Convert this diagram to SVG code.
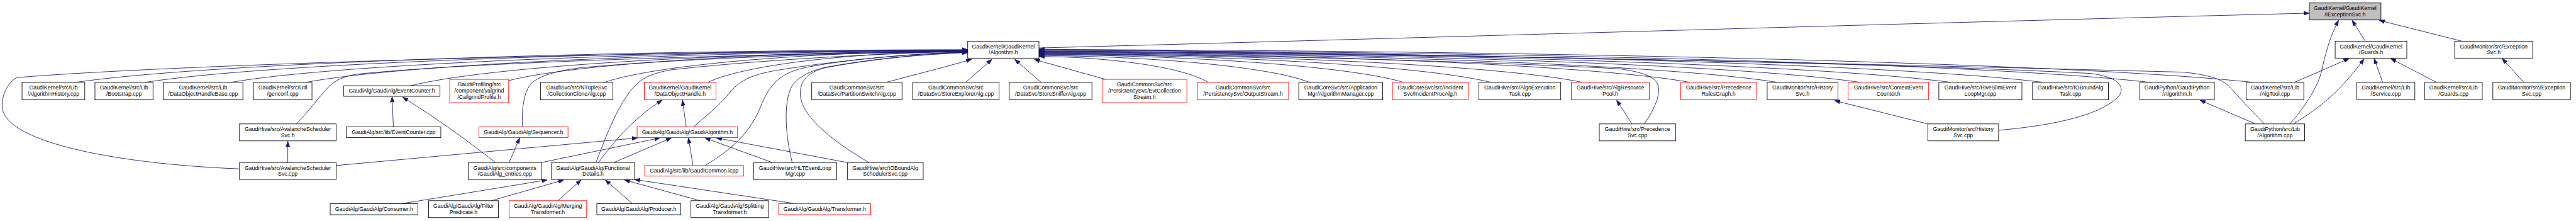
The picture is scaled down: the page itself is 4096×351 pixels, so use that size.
<svg xmlns="http://www.w3.org/2000/svg" width="4096" height="351" viewBox="0 0 4096 351">
<defs>
<style>
.n rect{fill:#fff;stroke:#000;stroke-width:1.3}
.r rect{stroke:#f00}
.g rect{fill:#bfbfbf}
text{font-family:"Liberation Sans",Arial,sans-serif;font-size:13px;fill:#000;text-anchor:middle}
#edges path{fill:none;stroke:#191970;stroke-width:1.3;marker-end:url(#ah)}
</style>
<marker id="ah" viewBox="0 0 13 10" markerWidth="13" markerHeight="10" refX="13" refY="5" orient="auto" markerUnits="userSpaceOnUse">
<path d="M0,0.3 L13,5 L0,9.7 z" fill="#191970" stroke="#191970" stroke-width="1"/>
</marker>
</defs>
<rect x="0" y="0" width="4096" height="351" fill="#fff"/>
<g transform="scale(0.674)">
<g id="edges">
<path d="M179,194 C494,148 1441,118 2283,117"/>
<path d="M343,194 C634,148 1507,119 2283,118"/>
<path d="M545,194 C806,149 1588,120 2283,119"/>
<path d="M722,194 C956,150 1659,121 2283,120"/>
<path d="M969,202 C1166,153 1757,122 2283,121"/>
<path d="M699,292 C735,255 755,225 775,205 C790,190 810,180 840,175 C1100,148 1700,128 2283,122"/>
<path d="M1200,190 C1362,148 1850,121 2283,120"/>
<path d="M1233,299 C1230,260 1235,215 1255,195 C1275,178 1310,168 1366,160 C1600,138 2000,124 2283,121"/>
<path d="M1426,194 C1555,150 1940,121 2283,120"/>
<path d="M1406,383 C1430,320 1460,240 1500,200 C1520,180 1545,172 1580,165 C1800,140 2100,125 2283,121"/>
<path d="M1670,194 C1762,150 2038,122 2283,121"/>
<path d="M1636,299 C1670,270 1700,245 1720,220 C1745,190 1770,178 1820,168 C1950,145 2150,126 2283,122"/>
<path d="M1663,390 C1740,345 1775,300 1795,250 C1815,200 1840,170 1906,158 C2000,140 2150,126 2283,123"/>
<path d="M1869,383 C1855,330 1845,240 1870,200 C1890,175 1920,165 1950,158 C2050,140 2170,127 2283,123"/>
<path d="M2050,383 C1960,330 1885,270 1888,217 C1890,185 1910,170 1945,160 C2050,140 2170,128 2283,124"/>
<path d="M565,398 C250,385 5,330 5,250 C5,218 20,195 39,183 C300,160 1200,125 2283,118"/>
<path d="M2091,194 C2150,178 2230,158 2292,140"/>
<path d="M2278,194 L2340,140"/>
<path d="M2456,194 L2394,140"/>
<path d="M2608,187 L2440,140"/>
<path d="M2850,194 C2790,157 2611,134 2451,133"/>
<path d="M3089,194 C2993,156 2706,132 2451,131"/>
<path d="M3311,194 C3182,155 2795,130 2451,129"/>
<path d="M3517,194 C3357,154 2877,129 2451,128"/>
<path d="M3733,194 C3541,154 2964,128 2451,127"/>
<path d="M3879,292 C3905,255 3925,210 3905,190 C3890,175 3860,168 3820,162 C3400,140 2800,128 2451,126"/>
<path d="M3987,194 C3757,153 3065,126 2451,125"/>
<path d="M4193,194 C3932,152 3148,125 2451,124"/>
<path d="M4388,194 C4098,151 3226,124 2451,123"/>
<path d="M4602,194 C4279,151 3311,123 2451,122"/>
<path d="M4820,194 C4465,150 3399,122 2451,121"/>
<path d="M4715,307 C4850,295 4960,270 5000,225 C5015,200 4990,180 4931,173 C4300,140 2800,122 2451,120"/>
<path d="M5071,194 C4678,149 3499,120 2451,119"/>
<path d="M5314,194 C4885,148 3596,118 2451,117"/>
<path d="M5342,292 C5300,250 5275,220 5255,200 C5235,183 5200,175 5150,170 C4000,140 2800,118 2451,116"/>
<path d="M2451,113 C3400,88 4500,55 5448,31"/>
<path d="M928,299 L925,228"/>
<path d="M1169,383 C1100,330 1040,285 950,229"/>
<path d="M679,383 L679,333"/>
<path d="M793,390 L1504,325"/>
<path d="M1201,383 L1226,325"/>
<path d="M1277,383 L1557,325"/>
<path d="M1448,383 L1584,325"/>
<path d="M1412,383 C1450,330 1500,275 1562,236"/>
<path d="M1619,299 L1610,236"/>
<path d="M1635,390 L1624,325"/>
<path d="M1822,383 L1663,325"/>
<path d="M1999,383 L1690,325"/>
<path d="M947,480 L1291,424"/>
<path d="M1159,473 L1330,424"/>
<path d="M1316,473 L1371,424"/>
<path d="M1492,480 L1428,424"/>
<path d="M1652,473 L1473,424"/>
<path d="M1877,480 L1497,423"/>
<path d="M3850,292 L3814,236"/>
<path d="M4548,292 L4328,237"/>
<path d="M5321,292 L5190,236"/>
<path d="M5402,292 C5440,250 5470,200 5477,167 C5490,110 5500,80 5517,48"/>
<path d="M5411,292 C5460,260 5510,230 5577,139"/>
<path d="M5413,194 L5542,138"/>
<path d="M5580,97 L5549,48"/>
<path d="M5808,97 L5613,48"/>
<path d="M5621,194 L5601,138"/>
<path d="M5748,194 L5640,138"/>
<path d="M5954,194 L5903,138"/>
</g>

<g id="n_alghist" class="n"><rect x="52" y="194" width="148" height="41"/><text x="126" y="211">GaudiKernel/src/Lib</text><text x="126" y="225">/AlgorithmHistory.cpp</text></g>
<g id="n_bootstrap" class="n"><rect x="224" y="194" width="137" height="41"/><text x="292.5" y="211">GaudiKernel/src/Lib</text><text x="292.5" y="225">/Bootstrap.cpp</text></g>
<g id="n_dohbase" class="n"><rect x="385" y="194" width="188" height="41"/><text x="479" y="211">GaudiKernel/src/Lib</text><text x="479" y="225">/DataObjectHandleBase.cpp</text></g>
<g id="n_genconf" class="n"><rect x="598" y="194" width="138" height="41"/><text x="667" y="211">GaudiKernel/src/Util</text><text x="667" y="225">/genconf.cpp</text></g>
<g id="n_evcounth" class="n"><rect x="811" y="202" width="227" height="25"/><text x="924.5" y="218.5">GaudiAlg/GaudiAlg/EventCounter.h</text></g>
<g id="n_callgrind" class="n r"><rect x="1061" y="187" width="139" height="55"/><text x="1130.5" y="203">GaudiProfiling/src</text><text x="1130.5" y="218">/component/valgrind</text><text x="1130.5" y="233">/CallgrindProfile.h</text></g>
<g id="n_collclone" class="n"><rect x="1275" y="194" width="171" height="41"/><text x="1360.5" y="211">GaudiSvc/src/NTupleSvc</text><text x="1360.5" y="225">/CollectionCloneAlg.cpp</text></g>
<g id="n_doh" class="n r"><rect x="1520" y="194" width="169" height="41"/><text x="1604.5" y="211">GaudiKernel/GaudiKernel</text><text x="1604.5" y="225">/DataObjectHandle.h</text></g>
<g id="n_partsw" class="n"><rect x="1915" y="194" width="213" height="41"/><text x="2021.5" y="211">GaudiCommonSvc/src</text><text x="2021.5" y="225">/DataSvc/PartitionSwitchAlg.cpp</text></g>
<g id="n_storeexp" class="n"><rect x="2153" y="194" width="204" height="41"/><text x="2255" y="211">GaudiCommonSvc/src</text><text x="2255" y="225">/DataSvc/StoreExplorerAlg.cpp</text></g>
<g id="n_storesniff" class="n"><rect x="2381" y="194" width="195" height="41"/><text x="2478.5" y="211">GaudiCommonSvc/src</text><text x="2478.5" y="225">/DataSvc/StoreSnifferAlg.cpp</text></g>
<g id="n_evtcoll" class="n r"><rect x="2600" y="187" width="200" height="55"/><text x="2700" y="203">GaudiCommonSvc/src</text><text x="2700" y="218">/PersistencySvc/EvtCollection</text><text x="2700" y="233">Stream.h</text></g>
<g id="n_outstream" class="n r"><rect x="2825" y="194" width="215" height="41"/><text x="2932.5" y="211">GaudiCommonSvc/src</text><text x="2932.5" y="225">/PersistencySvc/OutputStream.h</text></g>
<g id="n_algmgr" class="n"><rect x="3064" y="194" width="198" height="41"/><text x="3163" y="211">GaudiCoreSvc/src/Application</text><text x="3163" y="225">Mgr/AlgorithmManager.cpp</text></g>
<g id="n_incproc" class="n r"><rect x="3285" y="194" width="179" height="41"/><text x="3374.5" y="211">GaudiCoreSvc/src/Incident</text><text x="3374.5" y="225">Svc/IncidentProcAlg.h</text></g>
<g id="n_algoexec" class="n"><rect x="3489" y="194" width="193" height="41"/><text x="3585.5" y="211">GaudiHive/src/AlgoExecution</text><text x="3585.5" y="225">Task.cpp</text></g>
<g id="n_algrespool" class="n r"><rect x="3707" y="194" width="184" height="41"/><text x="3799" y="211">GaudiHive/src/AlgResource</text><text x="3799" y="225">Pool.h</text></g>
<g id="n_precrules" class="n r"><rect x="3965" y="194" width="179" height="41"/><text x="4054.5" y="211">GaudiHive/src/Precedence</text><text x="4054.5" y="225">RulesGraph.h</text></g>
<g id="n_histsvch" class="n"><rect x="4169" y="194" width="167" height="41"/><text x="4252.5" y="211">GaudiMonitor/src/History</text><text x="4252.5" y="225">Svc.h</text></g>
<g id="n_ctxevt" class="n r"><rect x="4360" y="194" width="190" height="41"/><text x="4455" y="211">GaudiHive/src/ContextEvent</text><text x="4455" y="225">Counter.h</text></g>
<g id="n_hiveslim" class="n"><rect x="4574" y="194" width="196" height="41"/><text x="4672" y="211">GaudiHive/src/HiveSlimEvent</text><text x="4672" y="225">LoopMgr.cpp</text></g>
<g id="n_ioboundtask" class="n"><rect x="4795" y="194" width="179" height="41"/><text x="4884.5" y="211">GaudiHive/src/IOBoundAlg</text><text x="4884.5" y="225">Task.cpp</text></g>
<g id="n_gpyalgh" class="n"><rect x="5048" y="194" width="176" height="41"/><text x="5136" y="211">GaudiPython/GaudiPython</text><text x="5136" y="225">/Algorithm.h</text></g>
<g id="n_algtool" class="n"><rect x="5299" y="194" width="136" height="41"/><text x="5367" y="211">GaudiKernel/src/Lib</text><text x="5367" y="225">/AlgTool.cpp</text></g>
<g id="n_service" class="n"><rect x="5560" y="194" width="137" height="41"/><text x="5628.5" y="211">GaudiKernel/src/Lib</text><text x="5628.5" y="225">/Service.cpp</text></g>
<g id="n_guardscpp" class="n"><rect x="5720" y="194" width="136" height="41"/><text x="5788" y="211">GaudiKernel/src/Lib</text><text x="5788" y="225">/Guards.cpp</text></g>
<g id="n_excsvccpp" class="n"><rect x="5881" y="194" width="183" height="41"/><text x="5972.5" y="211">GaudiMonitor/src/Exception</text><text x="5972.5" y="225">Svc.cpp</text></g>

<g id="n_avalh" class="n"><rect x="565" y="292" width="228" height="40"/><text x="679" y="309">GaudiHive/src/AvalancheScheduler</text><text x="679" y="323">Svc.h</text></g>
<g id="n_precsvc" class="n"><rect x="3773" y="292" width="180" height="40"/><text x="3863" y="309">GaudiHive/src/Precedence</text><text x="3863" y="323">Svc.cpp</text></g>
<g id="n_histsvccpp" class="n"><rect x="4548" y="292" width="167" height="40"/><text x="4631.5" y="309">GaudiMonitor/src/History</text><text x="4631.5" y="323">Svc.cpp</text></g>
<g id="n_gpyalgcpp" class="n"><rect x="5297" y="292" width="140" height="40"/><text x="5367" y="309">GaudiPython/src/Lib</text><text x="5367" y="323">/Algorithm.cpp</text></g>

<g id="n_evcountcpp" class="n"><rect x="817" y="299" width="223" height="25"/><text x="928.5" y="316">GaudiAlg/src/lib/EventCounter.cpp</text></g>
<g id="n_sequencer" class="n r"><rect x="1130" y="299" width="210" height="25"/><text x="1235" y="316">GaudiAlg/GaudiAlg/Sequencer.h</text></g>
<g id="n_gaudialg" class="n r"><rect x="1503" y="299" width="237" height="25"/><text x="1621.5" y="316">GaudiAlg/GaudiAlg/GaudiAlgorithm.h</text></g>

<g id="n_avalcpp" class="n"><rect x="565" y="383" width="228" height="40"/><text x="679" y="400">GaudiHive/src/AvalancheScheduler</text><text x="679" y="414">Svc.cpp</text></g>
<g id="n_entries" class="n"><rect x="1105" y="383" width="172" height="40"/><text x="1191" y="400">GaudiAlg/src/components</text><text x="1191" y="414">/GaudiAlg_entries.cpp</text></g>
<g id="n_funcdet" class="n"><rect x="1301" y="383" width="196" height="40"/><text x="1399" y="400">GaudiAlg/GaudiAlg/Functional</text><text x="1399" y="414">Details.h</text></g>
<g id="n_gcommon" class="n r"><rect x="1521" y="390" width="233" height="25"/><text x="1637.5" y="407">GaudiAlg/src/lib/GaudiCommon.icpp</text></g>
<g id="n_hltevt" class="n"><rect x="1778" y="383" width="196" height="40"/><text x="1876" y="400">GaudiHive/src/HLTEventLoop</text><text x="1876" y="414">Mgr.cpp</text></g>
<g id="n_iobsched" class="n"><rect x="1999" y="383" width="179" height="40"/><text x="2088.5" y="400">GaudiHive/src/IOBoundAlg</text><text x="2088.5" y="414">SchedulerSvc.cpp</text></g>

<g id="n_consumer" class="n"><rect x="779" y="480" width="207" height="26"/><text x="882.5" y="497">GaudiAlg/GaudiAlg/Consumer.h</text></g>
<g id="n_filterpred" class="n"><rect x="1011" y="473" width="165" height="40"/><text x="1093.5" y="490">GaudiAlg/GaudiAlg/Filter</text><text x="1093.5" y="504">Predicate.h</text></g>
<g id="n_merging" class="n r"><rect x="1201" y="473" width="183" height="40"/><text x="1292.5" y="490">GaudiAlg/GaudiAlg/Merging</text><text x="1292.5" y="504">Transformer.h</text></g>
<g id="n_producer" class="n"><rect x="1408" y="480" width="198" height="26"/><text x="1507" y="497">GaudiAlg/GaudiAlg/Producer.h</text></g>
<g id="n_splitting" class="n"><rect x="1630" y="473" width="183" height="40"/><text x="1721.5" y="490">GaudiAlg/GaudiAlg/Splitting</text><text x="1721.5" y="504">Transformer.h</text></g>
<g id="n_transformer" class="n r"><rect x="1837" y="480" width="217" height="26"/><text x="1945.5" y="497">GaudiAlg/GaudiAlg/Transformer.h</text></g>

<g id="n_algh" class="n"><rect x="2283" y="97" width="168" height="40"/><text x="2367" y="114">GaudiKernel/GaudiKernel</text><text x="2367" y="128">/Algorithm.h</text></g>
<g id="n_iexc" class="n g"><rect x="5448" y="7" width="169" height="40"/><text x="5532.5" y="24">GaudiKernel/GaudiKernel</text><text x="5532.5" y="38">/IExceptionSvc.h</text></g>
<g id="n_guardsh" class="n"><rect x="5509" y="97" width="169" height="40"/><text x="5593.5" y="114">GaudiKernel/GaudiKernel</text><text x="5593.5" y="128">/Guards.h</text></g>
<g id="n_excsvch" class="n"><rect x="5791" y="97" width="184" height="40"/><text x="5883" y="114">GaudiMonitor/src/Exception</text><text x="5883" y="128">Svc.h</text></g>
</g>
</svg>
